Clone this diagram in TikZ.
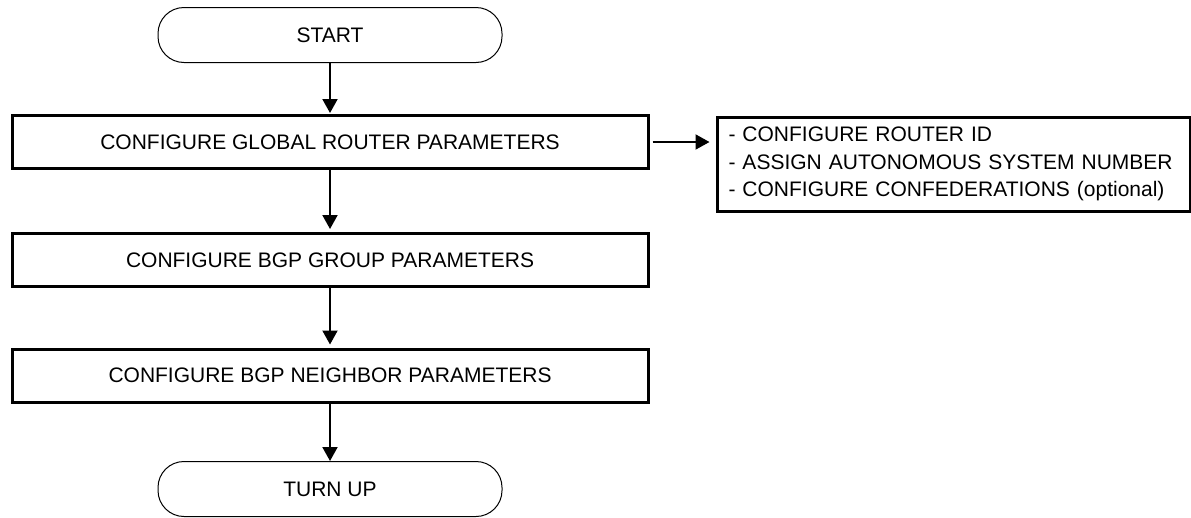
\documentclass[tikz,border=0pt]{standalone}
\usepackage{fontspec}
\setmainfont{Liberation Sans}
\usetikzlibrary{arrows.meta}
\begin{document}
\begin{tikzpicture}[x=1pt,y=-1pt,
  every node/.style={font=\fontsize{21}{27.5}\selectfont, inner sep=0pt},
  term/.style={draw, line width=1pt, rounded corners=26pt, minimum width=344pt, minimum height=55pt},
  procbox/.style={draw, line width=3pt, minimum width=636pt, minimum height=53pt},
  notebox/.style={draw, line width=3pt, minimum height=94pt, align=left, text width=450pt, inner xsep=11.5pt},
  flow/.style={line width=2pt, -{Triangle[length=14pt,width=15pt]}}
]
\useasboundingbox (0,0) rectangle (1191,517);
\node[term] (start) at (330,35) {START};
\node[procbox] (glob) at (330,142) {CONFIGURE GLOBAL ROUTER PARAMETERS};
\node[procbox] (grp) at (330,260) {CONFIGURE BGP GROUP PARAMETERS};
\node[procbox] (nbr) at (330,375.5) {CONFIGURE BGP NEIGHBOR PARAMETERS};
\node[term] (turn) at (330,489) {TURN UP};
\node[notebox] (note) at (953.5,164) {- CONFIGURE ROUTER ID\\- ASSIGN AUTONOMOUS SYSTEM NUMBER\\- CONFIGURE CONFEDERATIONS (optional)};
\draw[flow, shorten >=1pt] (start) -- (glob);
\draw[flow, shorten >=3pt] (glob) -- (grp);
\draw[flow, shorten >=3pt] (grp) -- (nbr);
\draw[flow] (nbr) -- (turn);
\draw[flow, shorten <=3pt, shorten >=6pt] (glob.east) -- (note.west |- glob.east);
\end{tikzpicture}
\end{document}
